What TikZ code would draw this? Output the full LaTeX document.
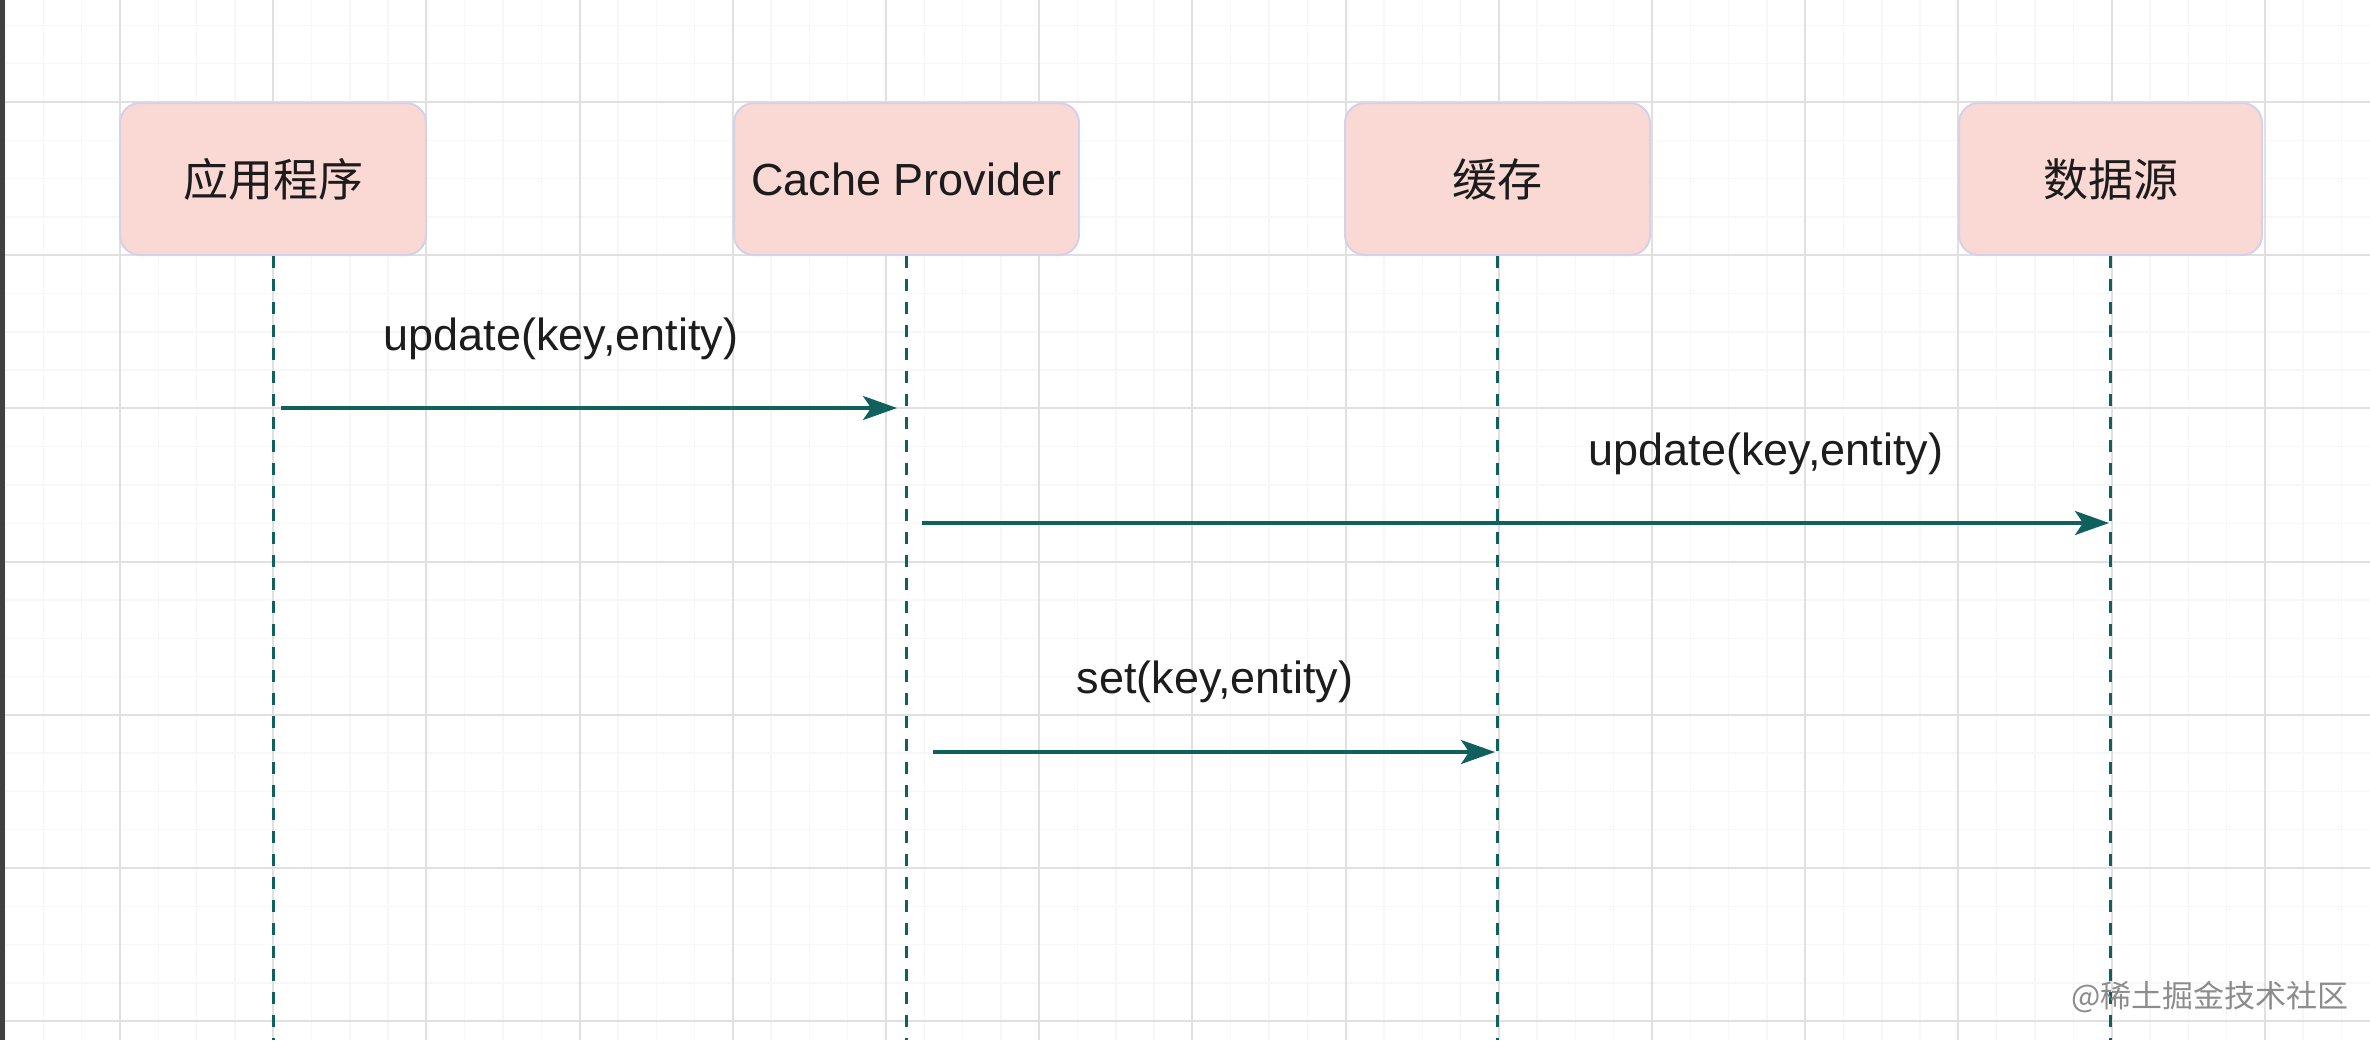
\documentclass[tikz,border=0pt]{standalone}
\usepackage{fontspec}
\setmainfont{Liberation Sans}
\newfontfamily\cjk{Noto Sans CJK SC}
\usepackage{tikz}
\usetikzlibrary{arrows.meta}
\definecolor{lineteal}{RGB}{16,96,94}
\definecolor{boxfill}{RGB}{250,217,213}
\definecolor{boxline}{RGB}{214,208,232}
\definecolor{gridmajor}{RGB}{224,224,224}
\definecolor{gridminor}{RGB}{247,247,247}
\definecolor{textgray}{RGB}{28,28,28}
\definecolor{markgray}{RGB}{140,140,140}
\tikzstyle{actor} = [draw=boxline, line width=1pt, fill=boxfill, rounded corners=10pt, minimum height=76pt, text=textgray, font=\fontsize{22.5}{27}\selectfont]
\tikzstyle{lifeline} = [lineteal, line width=1.5pt, dash pattern=on 6pt off 5.5pt]
\tikzstyle{arrow} = [lineteal, line width=1.6pt, -{Stealth[length=17pt,width=12pt,inset=4pt]}]
\tikzstyle{msglabel} = [anchor=base, inner sep=0pt, text=textgray, font=\fontsize{22.5}{27}\selectfont]

\begin{document}
\begin{tikzpicture}[x=0.5pt, y=-0.5pt]
    \useasboundingbox (0,0) rectangle (2370,1040);
    % background grid
    \foreach \i in {-3,...,58}
        \draw[gridminor, line width=0.7pt] ({120+38.3*\i},0) -- ++(0,1040);
    \foreach \i in {-2,...,24}
        \draw[gridminor, line width=0.7pt] (0,{102+38.3*\i}) -- ++(2370,0);
    \foreach \i in {0,...,14}
        \draw[gridmajor, line width=1pt] ({120+153.2*\i},0) -- ++(0,1040);
    \foreach \i in {0,...,6}
        \draw[gridmajor, line width=1pt] (0,{102+153.2*\i}) -- ++(2370,0);
    \fill[black!75] (0,0) rectangle (5,1040);

    % participants
    \node[actor, minimum width=153pt] (app) at (273,179) {\cjk 应用程序};
    \node[actor, minimum width=172.5pt] (prov) at (906.5,179) {Cache Provider};
    \node[actor, minimum width=152.5pt] (cache) at (1497.5,179) {\cjk 缓存};
    \node[actor, minimum width=151.5pt] (source) at (2110.5,179) {\cjk 数据源};

    % lifelines
    \coordinate (bottom) at (0,1040);
    \foreach \n in {app, prov, cache, source}
        \draw[lifeline] (\n.south) -- (\n.south |- bottom);

    % messages
    \coordinate (m1a) at (281,408);
    \coordinate (m1b) at (897,408);
    \coordinate (m2a) at (922,523);
    \coordinate (m2b) at (2109,523);
    \coordinate (m3a) at (933,752);
    \coordinate (m3b) at (1495,752);
    \draw[arrow] (m1a) -- (m1b);
    \draw[arrow] (m2a) -- (m2b);
    \draw[arrow] (m3a) -- (m3b);
    \node[msglabel] (l1) at (561,350) {update(key,entity)};
    \node[msglabel] (l2) at (1766,465) {update(key,entity)};
    \node[msglabel] (l3) at (1215,693) {set(key,entity)};

    \node[text=markgray, font=\cjk\fontsize{15.5}{18}\selectfont, inner sep=0pt] (mark) at (2210,997) {@稀土掘金技术社区};
\end{tikzpicture}
\end{document}
